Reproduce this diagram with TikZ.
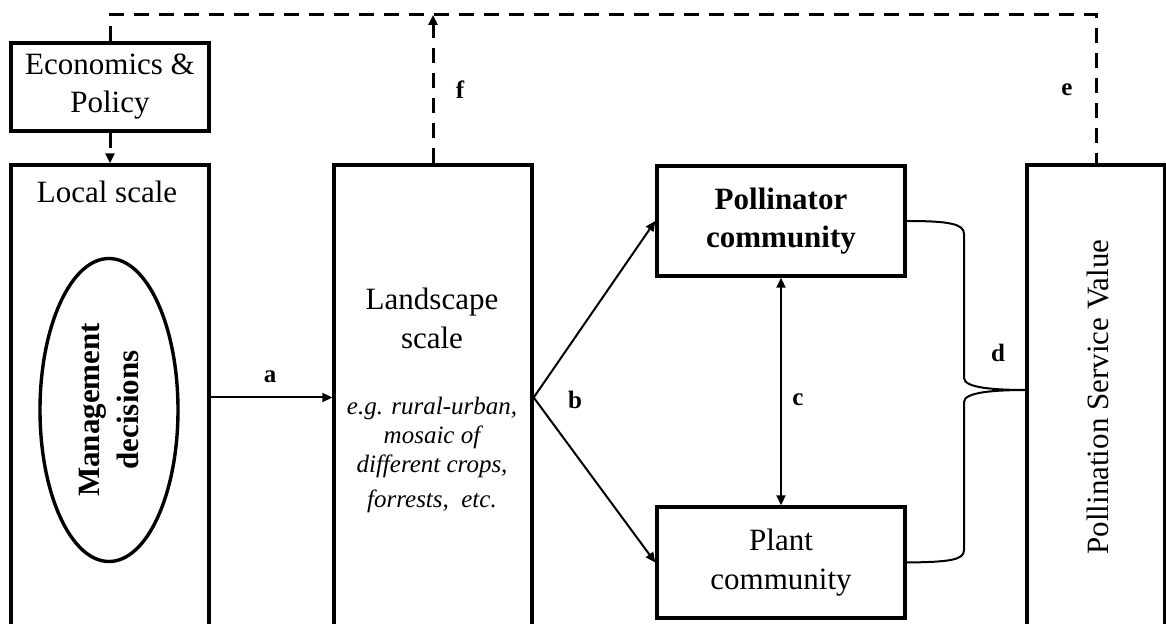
\documentclass[tikz,border=0pt]{standalone}
\usepackage{fontspec}
\setmainfont{Liberation Serif}
\usetikzlibrary{arrows.meta, shapes.geometric, positioning}

\begin{document}
\begin{tikzpicture}[x=0.5pt, y=-0.5pt,
    box/.style={draw, line width=1.7pt, inner sep=0pt},
    bigtxt/.style={font=\fontsize{15.5}{19}\selectfont, align=center},
    boldtxt/.style={font=\fontsize{15.5}{19}\selectfont\bfseries, align=center},
    egtxt/.style={font=\fontsize{12.5}{14.5}\selectfont\itshape, align=center},
    lbl/.style={font=\fontsize{12.5}{15}\selectfont\bfseries},
    tip/.tip={Triangle[length=5pt,width=4.5pt]},
    link/.style={line width=1pt, -tip},
    feedback/.style={line width=1.5pt, dash pattern=on 7.5pt off 5pt}]
\useasboundingbox (0,0) rectangle (1166,624);
\clip (0,0) rectangle (1166,624);

% boxes
\node[box, minimum width=99pt, minimum height=44pt, bigtxt] (econ) at (110,87) {Economics \&\\Policy};
\node[box, minimum width=99pt, minimum height=232.5pt] (local) at (110,397.5) {};
\node[bigtxt] (localtxt) at (107,192) {Local scale};
\node[box, ellipse, rotate=90, minimum width=151.5pt, minimum height=69pt,
      boldtxt, font=\fontsize{15.5}{19.5}\selectfont\bfseries] (mgmt) at (109,410) {Management\\decisions};
\node[box, minimum width=99pt, minimum height=232.5pt] (land) at (433,397.5) {};
\node[bigtxt, font=\fontsize{15.5}{19.5}\selectfont] (landtxt) at (432,318) {Landscape\\scale};
\node[egtxt] (landeg) at (432,455) {e.g. rural-urban,\\mosaic of\\different crops,\\[3pt]forrests,\ \ etc.};
\node[box, minimum width=124pt, minimum height=55pt, boldtxt] (poll) at (781,221) {Pollinator\\community};
\node[box, minimum width=124pt, minimum height=55.5pt, bigtxt, font=\fontsize{15.5}{19.5}\selectfont] (plant) at (781,562.5) {Plant\\community};
\node[box, minimum width=69pt, minimum height=232.5pt] (psv) at (1096,397.5) {};
\node[bigtxt, rotate=90] (psvtxt) at (1098,397) {Pollination Service Value};

% connectors
\coordinate (fb) at (0,15);
\coordinate (dtip) at (1027,390);
\draw[feedback] (econ.north) |- (fb -| psv.north) -- (psv.north);
\draw[feedback, -tip] (econ.south) -- (local.north);
\draw[feedback, -tip] (land.north) -- (land.north |- fb);
\draw[link] (local.east) -- (land.west);
\draw[link] (land.east) -- (poll.west);
\draw[link] (land.east) -- (plant.west);
\draw[link, tip-tip] (poll.south) -- (plant.north);
\draw[line width=1pt] (poll.east) .. controls (950,221) and (964,224) .. (964,234) -- (964,378)
    .. controls (964,388) and (995,390) .. (dtip);
\draw[line width=1pt] (dtip) .. controls (995,390) and (964,392) .. (964,402) -- (964,550)
    .. controls (964,560) and (950,562) .. (plant.east);

% labels
\node[lbl] (la) at (270,377) {a};
\node[lbl] (lb) at (575,400) {b};
\node[lbl] (lc) at (798,400) {c};
\node[lbl] (ld) at (998,353) {d};
\node[lbl] (le) at (1067,90) {e};
\node[lbl] (lf) at (460,90) {f};
\end{tikzpicture}
\end{document}
